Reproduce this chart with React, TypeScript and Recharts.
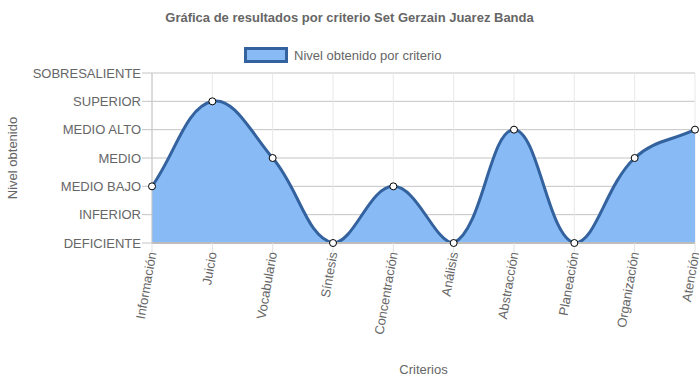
import { AreaChart, Area, XAxis, YAxis, CartesianGrid, Label } from "recharts";

const criterios = [
  "Información",
  "Juicio",
  "Vocabulario",
  "Síntesis",
  "Concentración",
  "Análisis",
  "Abstracción",
  "Planeación",
  "Organización",
  "Atención",
];
const niveles = [2, 5, 3, 0, 2, 0, 4, 0, 3, 4];
const nivelLabels = [
  "DEFICIENTE",
  "INFERIOR",
  "MEDIO BAJO",
  "MEDIO",
  "MEDIO ALTO",
  "SUPERIOR",
  "SOBRESALIENTE",
];
const yTicks = [0, 1, 2, 3, 4, 5, 6];

const data = criterios.map((c, i) => ({ criterio: c, nivel: niveles[i] }));

const W = 699;
const H = 382;
const margin = { top: 73, right: 4, bottom: 0, left: 0 };
const Y_AXIS_W = 152;
const X_AXIS_H = 139;
const FONT = "'Liberation Sans', Arial, Helvetica, sans-serif";
const TEXT = "#666";
const FILL = "#88bbf6";
const LINE = "#33629e";

// plot area, used to cap bezier control points like chart.js does
const area = {
  left: margin.left + Y_AXIS_W,
  right: W - margin.right,
  top: margin.top,
  bottom: H - margin.bottom - X_AXIS_H,
};

// chart.js style spline (tension 0.4, capped control points)
function chartJsCurve(context: any) {
  let xs: number[] = [];
  let ys: number[] = [];
  let line = NaN;
  const t = 0.4;
  const capX = (v: number) => Math.max(Math.min(v, area.right), area.left);
  const capY = (v: number) => Math.max(Math.min(v, area.bottom), area.top);
  return {
    areaStart() {
      line = 0;
    },
    areaEnd() {
      line = NaN;
    },
    lineStart() {
      xs = [];
      ys = [];
    },
    point(x: number, y: number) {
      xs.push(+x);
      ys.push(+y);
    },
    lineEnd() {
      const n = xs.length;
      if (n) {
        const cps = xs.map((x, i) => {
          const pi = i > 0 ? i - 1 : i;
          const ni = i < n - 1 ? i + 1 : i;
          const d01 = Math.hypot(x - xs[pi], ys[i] - ys[pi]);
          const d12 = Math.hypot(xs[ni] - x, ys[ni] - ys[i]);
          let s01 = d01 / (d01 + d12);
          let s12 = d12 / (d01 + d12);
          if (isNaN(s01)) s01 = 0;
          if (isNaN(s12)) s12 = 0;
          const fa = t * s01;
          const fb = t * s12;
          const dx = xs[ni] - xs[pi];
          const dy = ys[ni] - ys[pi];
          return {
            px: capX(x - fa * dx),
            py: capY(ys[i] - fa * dy),
            nx: capX(x + fb * dx),
            ny: capY(ys[i] + fb * dy),
          };
        });
        if (line) context.lineTo(xs[0], ys[0]);
        else context.moveTo(xs[0], ys[0]);
        for (let i = 0; i < n - 1; i++) {
          context.bezierCurveTo(
            cps[i].nx,
            cps[i].ny,
            cps[i + 1].px,
            cps[i + 1].py,
            xs[i + 1],
            ys[i + 1]
          );
        }
      }
      if (line || (line !== 0 && n === 1)) context.closePath();
      line = 1 - line;
    },
  };
}

const XTick = ({ x, y, payload }: any) => (
  <text
    x={x}
    y={y}
    transform={`rotate(-80 ${x} ${y})`}
    textAnchor="end"
    dominantBaseline="central"
    fill={TEXT}
    fontSize={13}
    fontFamily={FONT}
  >
    {payload.value}
  </text>
);

const YTick = ({ x, y, payload }: any) => (
  <text
    x={x}
    y={y}
    textAnchor="end"
    dominantBaseline="central"
    fill={TEXT}
    fontSize={13}
    fontFamily={FONT}
  >
    {nivelLabels[payload.value]}
  </text>
);

const Dot = ({ cx, cy }: any) => (
  <circle cx={cx} cy={cy} r={3.5} fill="#fff" stroke="#000" strokeWidth={1} />
);

export default function App() {
  return (
    <div
      style={{
        position: "absolute",
        left: 0,
        top: 0,
        width: W,
        height: H,
        fontFamily: FONT,
        background: "#fff",
      }}
    >
      <div
        style={{
          position: "absolute",
          left: 0,
          width: W,
          top: 10,
          textAlign: "center",
          fontSize: 13,
          fontWeight: "bold",
          color: TEXT,
          lineHeight: "16px",
        }}
      >
        Gráfica de resultados por criterio Set Gerzain Juarez Banda
      </div>
      <div
        style={{
          position: "absolute",
          left: 244,
          top: 47,
          display: "flex",
          alignItems: "center",
          fontSize: 13,
          color: TEXT,
        }}
      >
        <span
          style={{
            display: "inline-block",
            width: 38,
            height: 10,
            background: FILL,
            border: `3px solid ${LINE}`,
            marginRight: 6,
          }}
        />
        Nivel obtenido por criterio
      </div>
      <AreaChart width={W} height={H} data={data} margin={margin}>
        <CartesianGrid vertical={false} stroke="#c4c4c4" />
        <CartesianGrid horizontal={false} stroke="#e8e8e8" />
        <XAxis
          dataKey="criterio"
          scale="point"
          padding={{ left: 0, right: 0 }}
          height={X_AXIS_H}
          interval={0}
          tick={<XTick />}
          tickSize={9}
          tickMargin={0}
          tickLine={{ stroke: "#e0e0e0" }}
          axisLine={{ stroke: "#bdbdbd", strokeWidth: 2 }}
        >
          <Label
            content={({ viewBox }: any) => (
              <text
                x={viewBox.x + viewBox.width / 2}
                y={viewBox.y + viewBox.height - 13}
                textAnchor="middle"
                dominantBaseline="central"
                fill={TEXT}
                fontSize={13}
                fontFamily={FONT}
              >
                Criterios
              </text>
            )}
          />
        </XAxis>
        <YAxis
          type="number"
          domain={[0, 6]}
          ticks={yTicks}
          interval={0}
          width={Y_AXIS_W}
          tick={<YTick />}
          tickSize={10}
          tickMargin={1}
          tickLine={{ stroke: "#c4c4c4" }}
          axisLine={{ stroke: "#c4c4c4" }}
        >
          <Label
            content={({ viewBox }: any) => {
              const cx = viewBox.x + 12;
              const cy = viewBox.y + viewBox.height / 2;
              return (
                <text
                  x={cx}
                  y={cy}
                  transform={`rotate(-90 ${cx} ${cy})`}
                  textAnchor="middle"
                  dominantBaseline="central"
                  fill={TEXT}
                  fontSize={13}
                  fontFamily={FONT}
                >
                  Nivel obtenido
                </text>
              );
            }}
          />
        </YAxis>
        <Area
          dataKey="nivel"
          type={chartJsCurve as any}
          stroke={LINE}
          strokeWidth={3}
          fill={FILL}
          fillOpacity={1}
          dot={<Dot />}
          activeDot={false}
          isAnimationActive={false}
        />
      </AreaChart>
    </div>
  );
}
